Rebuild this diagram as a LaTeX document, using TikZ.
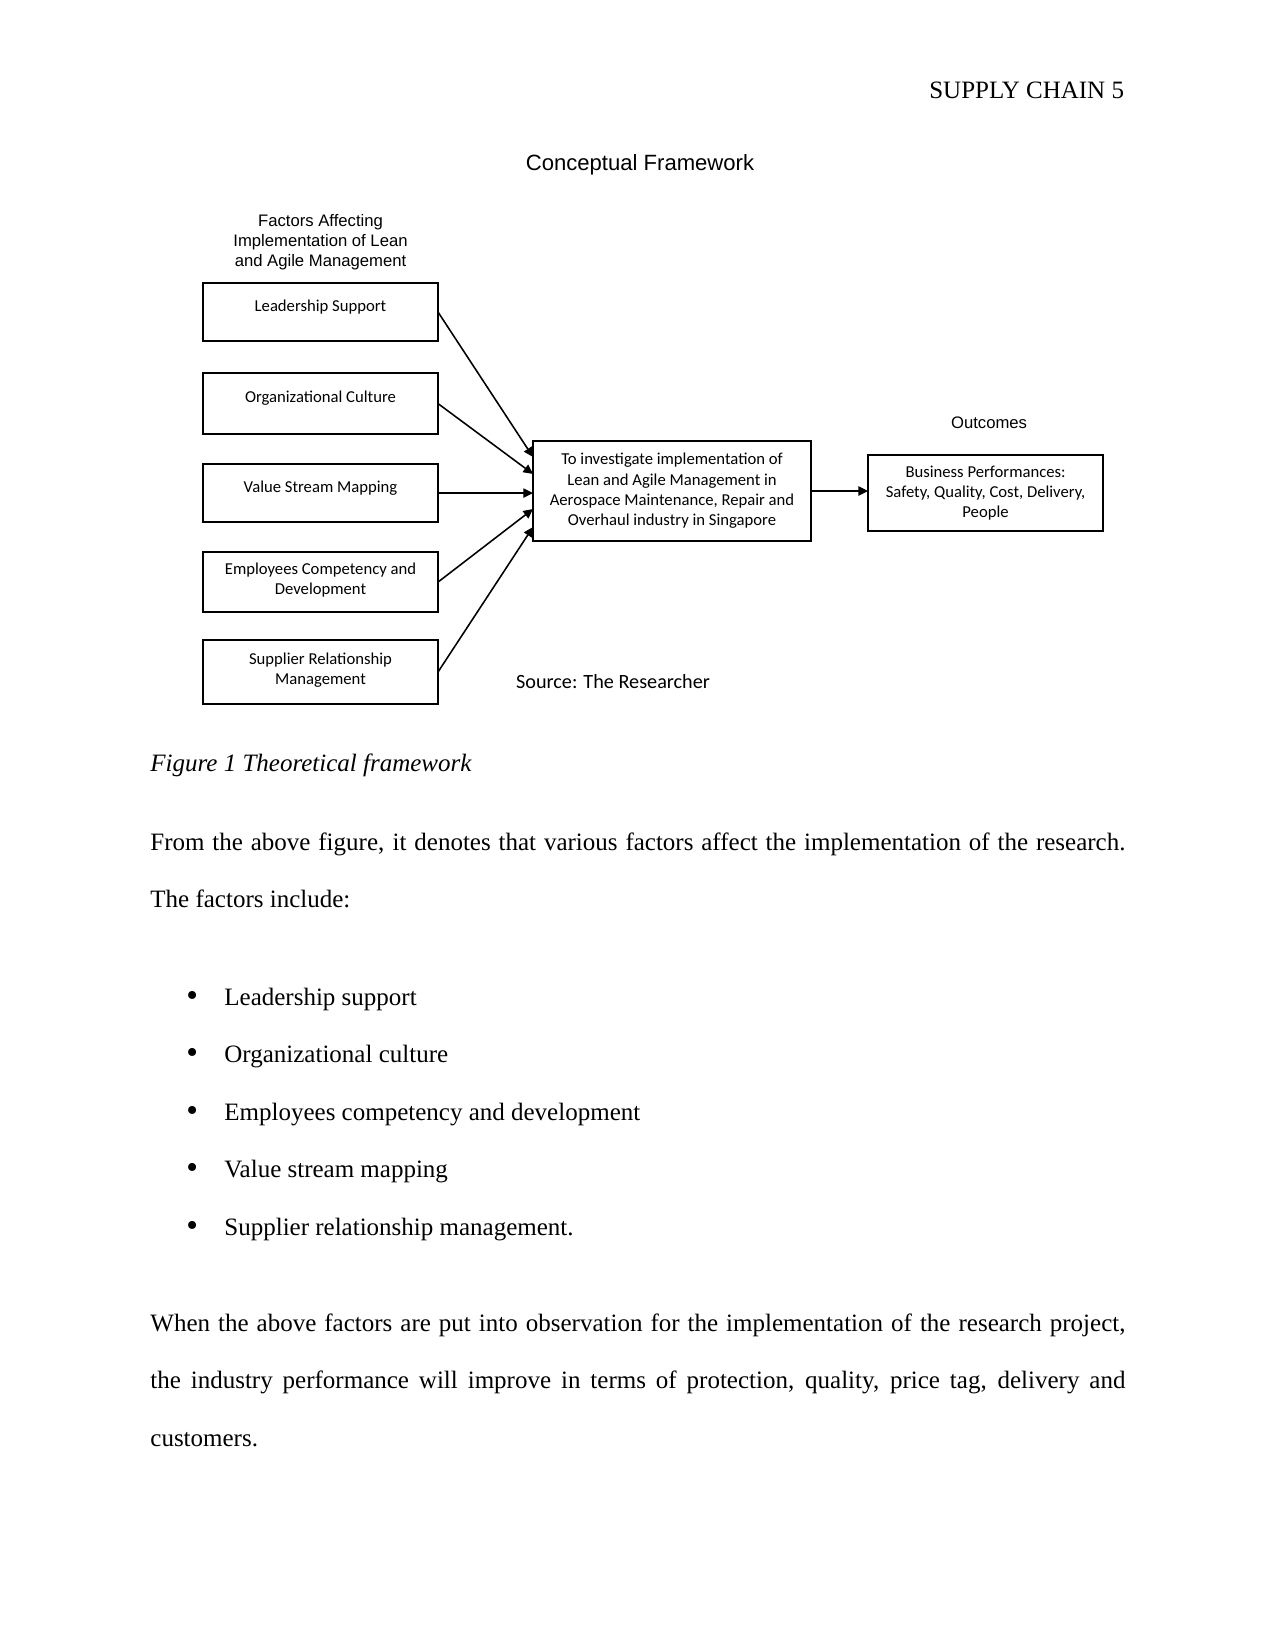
\documentclass[tikz,border=0pt]{standalone}
\usepackage{fontspec}
\setmainfont{Liberation Serif}
\newfontfamily\arialfont{Liberation Sans}
\newfontfamily\calfont{Carlito}
\usepackage{tikz}
\usetikzlibrary{positioning,arrows.meta,calc}
\newcommand{\bigbullet}{\makebox[18.24pt][l]{\raisebox{-0.7pt}{\fontsize{16}{16}\selectfont\textbullet}}}
\tikzset{
  blk/.style={draw,line width=0.9pt,outer sep=0pt,align=center,font=\calfont\fontsize{8}{9.8}\selectfont,minimum width=112.8pt,inner sep=2pt},
  blk1/.style={blk,text depth=6.5pt},
  blk2/.style={blk,text depth=3pt},
  head/.style={align=center,inner sep=0pt,font=\arialfont\fontsize{8}{9.6}\selectfont},
  body/.style={inner sep=0pt,font=\fontsize{12}{27.6}\selectfont},
  para/.style={body,anchor=north west,text width=468pt,align=justify,execute at begin node=\noindent\strut},
  ar/.style={-{Triangle[length=4.6pt,width=4.4pt]},line width=0.75pt},
}

\begin{document}
\begin{tikzpicture}[x=0.48pt,y=-0.48pt]
  \path[use as bounding box,fill=white] (0,0) rectangle (1275,1651);
  % running head
  \node[body,anchor=base east] (runhead) at (1124.5,98.5) {SUPPLY CHAIN 5};
  % framework figure
  \node[head,anchor=base,font=\arialfont\fontsize{10.6}{12.7}\selectfont] (title) at (640,171) {Conceptual Framework};
  \node[blk1,minimum height=27.84pt] (lead) at (320.5,312) {Leadership Support};
  \node[blk1,minimum height=29.28pt,below=15.4pt of lead] (org) {Organizational Culture};
  \node[blk1,minimum height=27.84pt,below=14.4pt of org] (vsm) {Value Stream Mapping};
  \node[blk2,minimum height=28.8pt,below=14.4pt of vsm] (emp) {Employees Competency and\\Development};
  \node[blk2,minimum height=30.72pt,below=13.4pt of emp] (sup) {Supplier Relationship\\Management};
  \node[head,above=6pt of lead] (factors) {Factors Affecting\\Implementation of Lean\\and Agile Management};
  \node[blk,minimum width=133.4pt,minimum height=48pt] (inv) at (672,491)
    {To investigate implementation of\\Lean and Agile Management in\\Aerospace Maintenance, Repair and\\Overhaul industry in Singapore};
  \node[blk,minimum height=36.5pt,right=27.4pt of inv,yshift=-1pt] (out) {Business Performances:\\Safety, Quality, Cost, Delivery,\\People};
  \node[head,above=12.4pt of out,xshift=1.7pt] (outc) {Outcomes};
  \node[inner sep=0pt,font=\calfont\fontsize{9.7}{11.6}\selectfont] (src) at (613,682) {Source: The Researcher};
  \draw[ar] (lead.east) -- ($(inv.west)+(0,-34)$);
  \draw[ar] (org.east) -- ($(inv.west)+(0,-17)$);
  \draw[ar] (vsm.east) -- (vsm.east -| inv.west);
  \draw[ar] (emp.east) -- ($(inv.west)+(0,18)$);
  \draw[ar] (sup.east) -- ($(inv.west)+(0,36)$);
  \draw[ar] (inv.east) -- (inv.east -| out.west);
  % caption and text
  \node[body,anchor=base west] (cap) at (150,771) {\itshape Figure 1 Theoretical framework};
  \node[para] (para1) at (150,809.75) {From the above figure, it denotes that various factors affect the implementation of the research.\linebreak The factors include:};
  \node[body,anchor=base west] (it1) at (186,1005) {\bigbullet Leadership support};
  \node[body,anchor=base west] (it2) at (186,1062.5) {\bigbullet Organizational culture};
  \node[body,anchor=base west] (it3) at (186,1120) {\bigbullet Employees competency and development};
  \node[body,anchor=base west] (it4) at (186,1177.5) {\bigbullet Value stream mapping};
  \node[body,anchor=base west] (it5) at (186,1235) {\bigbullet Supplier relationship management.};
  \node[para] (para2) at (150,1290.75) {When the above factors are put into observation for the implementation of the research project,\linebreak the industry performance will improve in terms of protection, quality, price tag, delivery and\linebreak customers.};
\end{tikzpicture}
\end{document}
